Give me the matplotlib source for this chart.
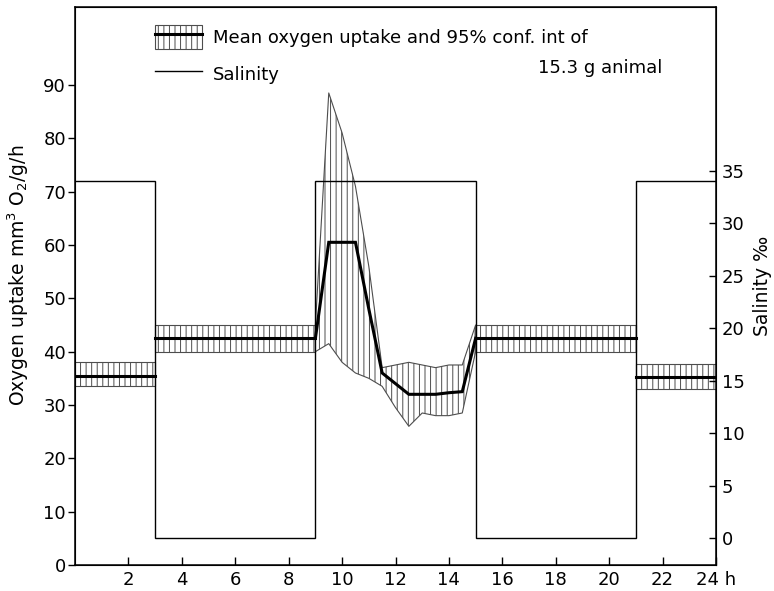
import numpy
import matplotlib
from matplotlib.backends.backend_agg import FigureCanvasAgg as FigureCanvas
from matplotlib.figure import Figure
from matplotlib.patches import Patch
from matplotlib.lines import Line2D

matplotlib.rcParams['font.family'] = ['DejaVu Sans']
matplotlib.rcParams['mathtext.fontset'] = 'dejavusans'
matplotlib.rcParams['mathtext.default'] = 'regular'
matplotlib.rcParams['hatch.linewidth'] = 0.7
matplotlib.rcParams['hatch.color'] = '0.25'

# salinity regime (step changes, hours)
salinity_edges = [0, 3, 9, 15, 21, 24]
salinity_values = [34, 0, 34, 0, 34]

# steady phases: mean oxygen uptake and 95% conf. int
steady_start = [0, 3, 15, 21]
steady_end = [3, 9, 21, 24]
steady_mean = [35.5, 42.5, 42.5, 35.3]
steady_low = [33.5, 40.0, 40.0, 33.0]
steady_high = [38.0, 45.0, 45.0, 37.7]

# transient phase after transfer to sea water
trans_hours = [9, 9.5, 10, 10.5, 11, 11.5, 12, 12.5, 13, 13.5, 14, 14.5, 15]
trans_mean = [42.5, 60.5, 60.5, 60.5, 48, 36, 34, 32, 32, 32, 32.3, 32.5, 42.5]
trans_low = [40, 41.5, 38, 36, 35, 33.5, 29.5, 26, 28.5, 28, 28, 28.5, 40]
trans_high = [45, 88.5, 81, 71, 56, 37, 37.5, 38, 37.5, 37, 37.5, 37.5, 45]

x_ticks = [2, 4, 6, 8, 10, 12, 14, 16, 18, 20, 22, 24]
x_tick_labels = ['2', '4', '6', '8', '10', '12', '14', '16', '18', '20', '22', '24 h']

HATCH = '|||'
BAND_EDGE = '0.3'


def plot_band(axes, hours, mean, low, high):
    axes.fill_between(hours, low, high, facecolor='white', edgecolor=BAND_EDGE,
                      hatch=HATCH, linewidth=0.8, zorder=2)
    axes.plot(hours, mean, color='black', linewidth=2.2, zorder=3,
              solid_joinstyle='miter')


fig = Figure((7.74, 5.91), dpi=100)
FigureCanvas(fig) # needed for savefig
axes = fig.add_axes([0.097, 0.044, 0.828, 0.944])

for start, end, mean, low, high in zip(steady_start, steady_end, steady_mean,
                                       steady_low, steady_high):
    plot_band(axes, [start, end], [mean, mean], [low, low], [high, high])
plot_band(axes, trans_hours, trans_mean, trans_low, trans_high)

axes.set_xlim(0, 24)
axes.set_ylim(0, 104.6)
axes.set_yticks(numpy.arange(0, 91, 10))
axes.set_xticks(x_ticks)
axes.set_xticklabels(x_tick_labels)
axes.tick_params(axis='x', direction='in', length=6, width=1, pad=4, labelsize=13)
axes.tick_params(axis='y', direction='out', length=5, width=1, pad=1.5, labelsize=13)
axes.set_ylabel('Oxygen uptake mm$^3$ O$_2$/g/h', fontsize=13.5)
axes.yaxis.set_label_coords(-0.068, 0.52)
for spine in axes.spines.values():
    spine.set_linewidth(1.1)

axes2 = axes.twinx()
axes2.stairs(salinity_values, salinity_edges, baseline=None, color='black',
             linewidth=1.0, zorder=4)
axes2.set_ylim(-2.57, 50.6)
axes2.set_yticks(numpy.arange(0, 36, 5))
axes2.tick_params(axis='y', direction='in', length=5, width=1, pad=4, labelsize=13)
axes2.set_ylabel('Salinity ‰', fontsize=13.5, labelpad=6)

handles = [(Patch(facecolor='white', edgecolor=BAND_EDGE, hatch=HATCH, linewidth=0.8),
            Line2D([], [], color='black', linewidth=2.2)),
           Line2D([], [], color='black', linewidth=1.0)]
labels = ['Mean oxygen uptake and 95% conf. int of', 'Salinity']
axes2.legend(handles, labels, loc='upper left', bbox_to_anchor=(0.125, 0.968),
             frameon=False, borderpad=0, borderaxespad=0, fontsize=13,
             handlelength=2.6, handleheight=1.7, handletextpad=0.6,
             labelspacing=0.7)
axes2.text(0.916, 0.891, '15.3 g animal', transform=axes2.transAxes,
           ha='right', va='center', fontsize=13)

fig.savefig('out.png', dpi=100)
